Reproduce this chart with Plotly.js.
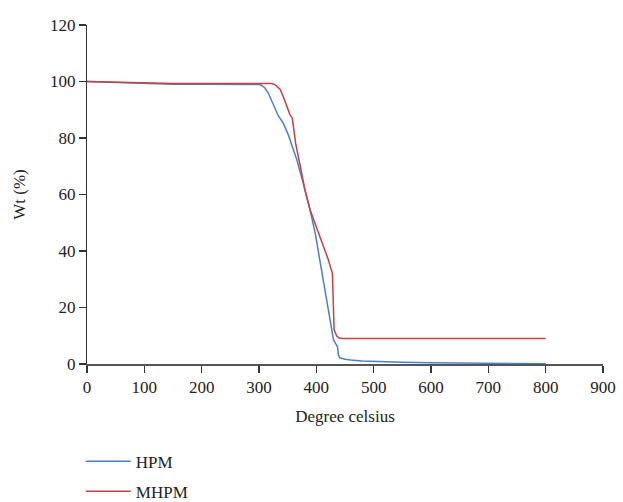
<!DOCTYPE html>
<html>
<head>
<meta charset="utf-8">
<script src="https://cdn.plot.ly/plotly-3.0.1.min.js"></script>
<style>html,body{margin:0;padding:0;background:#fff;}#chart{width:623px;height:502px;}</style>
</head>
<body>
<div id="chart"></div>
<script>
const hpmTemp = [0, 25, 50, 100, 150, 200, 250, 290, 300, 304, 310, 316, 322, 328, 334, 342, 351, 358, 366, 377, 389, 398, 406, 415, 424, 430, 434, 437, 438.5, 441, 450, 460, 480, 510, 550, 600, 650, 700, 750, 800];
const hpmWt   = [100, 99.8, 99.6, 99.2, 99.0, 99.0, 99.0, 99.0, 98.9, 98.7, 97.8, 96, 93, 90, 87.7, 85.4, 81.2, 77, 72.3, 64.1, 54.6, 46.3, 36.9, 26.2, 15.6, 8.5, 7.1, 6.1, 3.2, 2.2, 1.7, 1.4, 1.1, 0.8, 0.6, 0.45, 0.3, 0.2, 0.15, 0.1];
const mhpmTemp = [0, 50, 100, 150, 200, 250, 300, 322, 328, 337, 342, 348, 354, 358, 361, 364, 372, 380, 389, 400, 412, 421, 425.6, 428, 431, 435.5, 440, 445, 500, 600, 700, 800];
const mhpmWt   = [100, 99.7, 99.4, 99.3, 99.3, 99.3, 99.3, 99.3, 98.9, 97.2, 94.8, 91.2, 88.3, 87.1, 82, 78, 70, 61.7, 54.6, 48.7, 42.2, 36.9, 33.6, 32.2, 12.1, 9.9, 9.2, 9, 9, 9, 9, 9];
const seriesNames = ["HPM", "MHPM"];
const xTicks = [0, 100, 200, 300, 400, 500, 600, 700, 800, 900];
const yTicks = [0, 20, 40, 60, 80, 100, 120];

const font = {family: "Liberation Serif, Times New Roman, serif", size: 17, color: "#222"};

const traces = [
  {x: hpmTemp, y: hpmWt, name: seriesNames[0], legendgroup: "a", mode: "lines", line: {color: "#4a7fcb", width: 1.5}},
  {x: mhpmTemp, y: mhpmWt, name: seriesNames[1], legendgroup: "b", mode: "lines", line: {color: "#c8403f", width: 1.5}}
];

const layout = {
  width: 623, height: 502,
  margin: {l: 87, r: 20, t: 25, b: 138, autoexpand: false},
  paper_bgcolor: "#fff", plot_bgcolor: "#fff",
  font: font,
  showlegend: true,
  legend: {x: -0.012, y: -0.235, xanchor: "left", yanchor: "top", orientation: "v", font: font, bgcolor: "rgba(0,0,0,0)", tracegroupgap: 5, traceorder: "grouped", itemwidth: 45},
  xaxis: {
    range: [0, 900], tickvals: xTicks, ticktext: xTicks.map(String),
    showgrid: false, zeroline: false, showline: true, linecolor: "#555", linewidth: 2,
    ticks: "outside", ticklen: 7, tickwidth: 1.5, tickcolor: "#333",
    title: {text: "Degree celsius", font: font, standoff: 14},
    tickfont: font, automargin: false
  },
  yaxis: {
    range: [0, 120], tickvals: yTicks, ticktext: yTicks.map(String),
    showgrid: false, zeroline: false, showline: true, linecolor: "#333", linewidth: 1.2,
    ticks: "outside", ticklen: 7, tickwidth: 1.2, tickcolor: "#333",
    title: {text: "Wt (%)", font: font, standoff: 20},
    tickfont: font, automargin: false
  }
};

Plotly.newPlot("chart", traces, layout, {displayModeBar: false, staticPlot: true});
</script>
</body>
</html>
